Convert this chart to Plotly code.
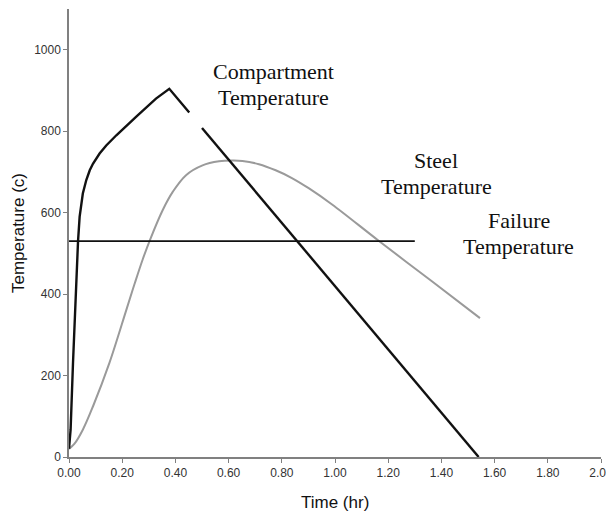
import plotly.graph_objects as go

# Compartment temperature (None = gap in the drawn line)
comp_time = [0, 0.006, 0.015, 0.024, 0.034, 0.040, 0.046, 0.052, 0.065, 0.078, 0.09, 0.115, 0.14, 0.178,
             0.252, 0.327, 0.377, 0.452, None, 0.50, 1.54]
comp_temp = [20, 67, 230, 394, 530, 590, 622, 647, 680, 704, 720, 745, 765, 790,
             835, 880, 904, 846, None, 808, 0]

# Steel temperature
steel_time = [0, 0.02, 0.052, 0.09, 0.152, 0.215, 0.246, 0.277, 0.305, 0.352, 0.39, 0.44, 0.502,
              0.564, 0.614, 0.652, 0.714, 0.777, 0.838, 0.901, 0.989, 1.164, 1.363, 1.545]
steel_temp = [20, 32, 67, 124, 231, 360, 424, 485, 534, 606, 651, 692, 716,
              726, 728, 727, 719, 704, 685, 660, 620, 531, 432, 341]

# Failure temperature
fail_time = [0, 1.30]
fail_temp = [530, 530]

x_ticks = [0, 0.2, 0.4, 0.6, 0.8, 1.0, 1.2, 1.4, 1.6, 1.8, 2.0]
y_ticks = [0, 200, 400, 600, 800, 1000]

label_lines = [["Compartment", "Temperature"], ["Steel", "Temperature"], ["Failure", "Temperature"]]
label_x = [0.767, 1.381, 1.691]
label_y = [915, 696, 549]

fig = go.Figure()
fig.add_trace(go.Scatter(x=steel_time, y=steel_temp, mode="lines",
                         line=dict(color="#9a9a9a", width=2, shape="spline", smoothing=1.0)))
fig.add_trace(go.Scatter(x=fail_time, y=fail_temp, mode="lines",
                         line=dict(color="#111111", width=1.6)))
fig.add_trace(go.Scatter(x=comp_time, y=comp_temp, mode="lines",
                         line=dict(color="#111111", width=2.4), connectgaps=False))

for lines, lx, ly in zip(label_lines, label_x, label_y):
    for i, txt in enumerate(lines):
        fig.add_annotation(x=lx, y=ly, xref="x", yref="y", text=txt, showarrow=False,
                           yshift=13 - 26 * i,
                           font=dict(family="Liberation Serif", size=22, color="#111111"),
                           xanchor="center", yanchor="middle", align="center")

fig.add_annotation(xref="paper", yref="paper", x=0, y=0.5, xshift=-51,
                   text="Temperature (c)", textangle=-90, showarrow=False,
                   font=dict(family="Liberation Sans", size=17, color="#111111"),
                   xanchor="center", yanchor="middle")
fig.add_annotation(xref="paper", yref="paper", x=0.5, y=0, yshift=-45,
                   text="Time (hr)", showarrow=False,
                   font=dict(family="Liberation Sans", size=17, color="#111111"),
                   xanchor="center", yanchor="middle")

axis_common = dict(showgrid=False, zeroline=False, showline=True, linecolor="#808080",
                   linewidth=1.5, ticks="outside", ticklen=4, tickcolor="#808080",
                   ticklabeloverflow="allow",
                   tickfont=dict(family="Liberation Sans", size=12, color="#333333"))

# page body has an 8px margin, so the figure is sized/offset to compensate
fig.update_layout(
    width=606, height=505,
    margin=dict(l=61, r=11, t=1, b=56),
    paper_bgcolor="white", plot_bgcolor="white",
    showlegend=False,
    xaxis=dict(range=[0, 2.0], tickvals=x_ticks, tickformat=".2f", **axis_common),
    yaxis=dict(range=[0, 1100], tickvals=y_ticks, **axis_common),
)

fig.write_html("out.html")
